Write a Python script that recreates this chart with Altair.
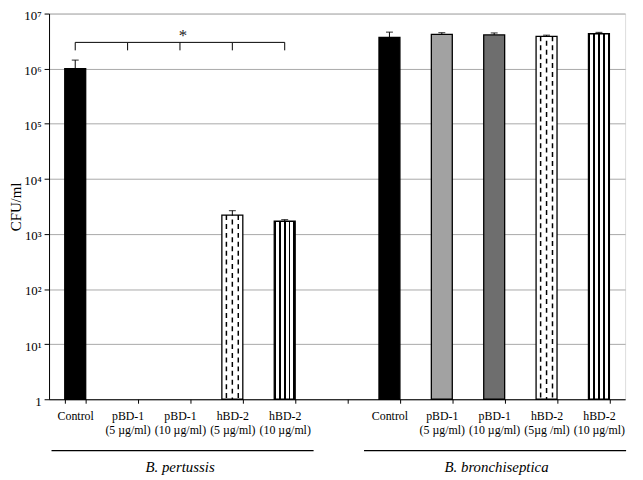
import altair as alt
import pandas as pd

# ---- data ----
categories = ["Control", "pBD-1|(5 µg/ml)", "pBD-1|(10 µg/ml)", "hBD-2|(5 µg/ml)", "hBD-2|(10 µg/ml)",
              " ",
              "Control ", "pBD-1|(5 µg/ml) ", "pBD-1|(10 µg/ml) ", "hBD-2|(5µg /ml)", "hBD-2|(10 µg/ml) "]
treatments = ["control", "pbd5", "pbd10", "hbd5", "hbd10"]
pertussis_cats = categories[0:5]
bronch_cats = categories[6:11]
pertussis_values = [1.0e6, 1, 1, 2.2e3, 1.7e3]
pertussis_err = [1.43e6, 1, 1, 2.65e3, 1.82e3]
bronch_values = [3.7e6, 4.2e6, 4.1e6, 3.85e6, 4.3e6]
bronch_err = [4.6e6, 4.5e6, 4.45e6, 4.05e6, 4.55e6]
bracket_top = 3.0e6
bracket_bottom = 2.15e6
star_level = 3.9e6
y_ticks = [1, 10, 100, 1e3, 1e4, 1e5, 1e6, 1e7]
baseline = 1

rows = []
for c, t, v, e in zip(pertussis_cats, treatments, pertussis_values, pertussis_err):
    rows.append({"cat": c, "treat": t, "value": v, "err": e, "base": baseline, "group": "B. pertussis"})
for c, t, v, e in zip(bronch_cats, treatments, bronch_values, bronch_err):
    rows.append({"cat": c, "treat": t, "value": v, "err": e, "base": baseline, "group": "B. bronchiseptica"})
df = pd.DataFrame(rows)
df_bracket = pd.DataFrame({"cat": pertussis_cats, "top": [bracket_top] * 5, "bot": [bracket_bottom] * 5})

SERIF = "Liberation Serif"

X = alt.X("cat:N", sort=categories,
          scale=alt.Scale(domain=categories, paddingInner=0.6, paddingOuter=0.3),
          axis=alt.Axis(title=None, labelExpr="split(datum.label, '|')", labelAngle=0,
                        labelFont=SERIF, labelFontSize=12, labelLineHeight=15, labelColor="black",
                        tickBand="extent", tickSize=4, tickColor="black", domainColor="black",
                        labelPadding=7, grid=False))
Y = alt.Y("value:Q",
          scale=alt.Scale(type="log", domain=[1, 1e7], nice=False),
          axis=alt.Axis(title="CFU/ml", values=y_ticks,
                        labelExpr="datum.value == 1 ? '1' : '10' + ['', '¹', '²', '³', '⁴', '⁵', '⁶', '⁷'][round(log(datum.value) / LN10)]",
                        labelFont=SERIF, labelFontSize=13, labelColor="black", labelOffset=2,
                        titleFont=SERIF, titleFontSize=15, titleFontWeight="normal", titleColor="black",
                        titlePadding=0, tickSize=5, tickColor="black", domainColor="black",
                        grid=True, gridColor="#a8a8a8", labelPadding=3))

base = alt.Chart(df)

stripes = {"gradient": "linear", "x1": 0, "x2": 1, "y1": 0, "y2": 0, "stops": [
    {"offset": 0.0, "color": "black"}, {"offset": 0.09, "color": "black"},
    {"offset": 0.09, "color": "white"}, {"offset": 0.2275, "color": "white"},
    {"offset": 0.2275, "color": "black"}, {"offset": 0.3175, "color": "black"},
    {"offset": 0.3175, "color": "white"}, {"offset": 0.455, "color": "white"},
    {"offset": 0.455, "color": "black"}, {"offset": 0.545, "color": "black"},
    {"offset": 0.545, "color": "white"}, {"offset": 0.6825, "color": "white"},
    {"offset": 0.6825, "color": "black"}, {"offset": 0.7725, "color": "black"},
    {"offset": 0.7725, "color": "white"}, {"offset": 0.91, "color": "white"},
    {"offset": 0.91, "color": "black"}, {"offset": 1.0, "color": "black"}]}

fills = {"control": "black", "pbd5": "#a2a2a2", "pbd10": "#6e6e6e", "hbd5": "white", "hbd10": stripes}

layers = []
for t in treatments:
    layers.append(base.transform_filter((alt.datum.treat == t) & (alt.datum.value > 1))
                  .mark_bar(fill=fills[t], stroke="black", strokeWidth=1.3)
                  .encode(x=X, y=Y, y2="base:Q"))

# dashed pattern inside hBD-2 (5 µg/ml) bars
for off, dash_off in [(-6, 0), (0, 4.5), (6, 0)]:
    layers.append(base.transform_filter((alt.datum.treat == "hbd5") & (alt.datum.value > 1))
                  .mark_rule(color="black", strokeWidth=1.5, strokeDash=[5, 4],
                             strokeDashOffset=dash_off, xOffset=off)
                  .encode(x=X, y=Y, y2="base:Q"))

# error bars
err_base = base.transform_filter(alt.datum.err > alt.datum.value)
layers.append(err_base.mark_rule(color="black", strokeWidth=1).encode(x=X, y=Y, y2="err:Q"))
layers.append(err_base.mark_tick(color="black", size=7, thickness=1.2)
              .encode(x=X, y=alt.Y("err:Q")))

# significance bracket
br = alt.Chart(df_bracket)
layers.append(br.mark_line(color="black", strokeWidth=1).encode(x=X, y=alt.Y("top:Q")))
layers.append(br.mark_rule(color="black", strokeWidth=1).encode(x=X, y=alt.Y("bot:Q"), y2="top:Q"))
layers.append(alt.Chart(pd.DataFrame({"cat": [pertussis_cats[2]], "v": [star_level]}))
              .mark_text(text="*", font=SERIF, fontSize=17, dx=3, color="#222")
              .encode(x=X, y=alt.Y("v:Q")))

# group underline and labels below the axis
one = alt.Chart(alt.Data(values=[{}]))
layers.append(one.mark_rule(color="black", strokeWidth=1.2)
              .encode(x=alt.value(2.5), x2=alt.value(267.5), y=alt.value(442)))
layers.append(one.mark_rule(color="black", strokeWidth=1.2)
              .encode(x=alt.value(318.5), x2=alt.value(583.5), y=alt.value(442)))
layers.append(one.mark_text(text="B. pertussis", font=SERIF, fontSize=15, fontStyle="italic", color="black")
              .encode(x=alt.value(132.5), y=alt.value(459)))
layers.append(one.mark_text(text="B. bronchiseptica", font=SERIF, fontSize=15, fontStyle="italic", color="black")
              .encode(x=alt.value(452.5), y=alt.value(459)))

chart = (alt.layer(*layers)
         .properties(width=582.5, height=390,
                     autosize=alt.AutoSizeParams(type="none"),
                     padding={"left": 41.5, "top": 3, "right": 10, "bottom": 78})
         .configure_view(stroke="#a0a0a0", strokeWidth=1)
         .configure(background="white"))

chart.save("out.html", embed_options={"renderer": "svg", "actions": False})
